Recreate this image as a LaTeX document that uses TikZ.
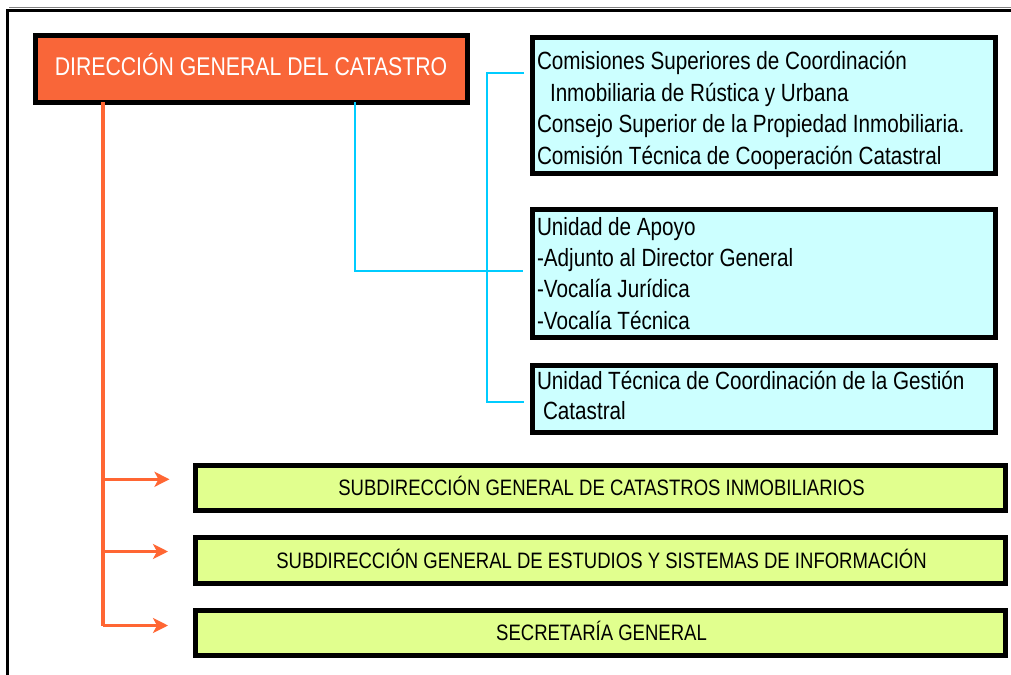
\documentclass[tikz,border=0pt]{standalone}
\usepackage{fontspec}
\setmainfont[FakeStretch=0.83]{Liberation Sans}
\usetikzlibrary{arrows.meta}
\definecolor{orangeline}{HTML}{FF6633}
\definecolor{titlefill}{HTML}{F96639}
\definecolor{cyanfill}{HTML}{CCFFFF}
\definecolor{cyanline}{HTML}{00CCFF}
\definecolor{greenfill}{HTML}{E1FF8E}
\newcommand{\boxfont}{\fontsize{25}{30}\selectfont}
\newcommand{\greenfont}{\fontsize{22.4}{26}\selectfont}
\newcommand{\titlefont}{\fontsize{25.7}{30}\selectfont}
\begin{document}
\begin{tikzpicture}[x=1bp,y=-1bp,
  framebox/.style={draw=black, line width=5bp, rectangle, inner sep=0pt, outer sep=0pt, anchor=center},
  mainbox/.style={framebox, fill=titlefill},
  cyanbox/.style={framebox, fill=cyanfill, minimum width=463bp},
  greenbox/.style={framebox, fill=greenfill, minimum width=810bp},
  txt/.style={anchor=base west, inner sep=0pt, outer sep=0pt, font=\boxfont, text=black},
  gtxt/.style={anchor=base, inner sep=0pt, outer sep=0pt, font=\greenfont, text=black},
  orangeconn/.style={draw=orangeline, line width=3.5bp},
  orangearrow/.style={orangeconn, -{Stealth[length=15bp,width=15bp,inset=4bp]}},
  cyanconn/.style={draw=cyanline, line width=2.5bp},
  frameline/.style={draw=black, line width=3bp}
]
\useasboundingbox (0,0) rectangle (1011,675);
\fill[white] (-10,-10) rectangle (1025,690);

% boxes
\node[mainbox, minimum width=432bp, minimum height=67bp] (main) at (251.5,69) {};
\node[anchor=base, inner sep=0pt, font=\titlefont, text=white] (title) at (251,76) {DIRECCIÓN GENERAL DEL CATASTRO};

\node[cyanbox, minimum height=136bp] (ba) at (764,105.5) {};
\node[cyanbox, minimum height=128bp] (bb) at (764,273.5) {};
\node[cyanbox, minimum height=67bp] (bc) at (764,399) {};

\node[greenbox, minimum height=45bp] (g1) at (600.5,488) {};
\node[greenbox, minimum height=46bp] (g2) at (600.5,560.5) {};
\node[greenbox, minimum height=45bp] (g3) at (600.5,633) {};

% box texts
\node[txt] (ta1) at (537,69.5) {Comisiones Superiores de Coordinación};
\node[txt] (ta2) at (550,101.2) {Inmobiliaria de Rústica y Urbana};
\node[txt] (ta3) at (537,132.9) {Consejo Superior de la Propiedad Inmobiliaria.};
\node[txt] (ta4) at (537,164.6) {Comisión Técnica de Cooperación Catastral};

\node[txt] (tb1) at (537,235.5) {Unidad de Apoyo};
\node[txt] (tb2) at (537,266.8) {-Adjunto al Director General};
\node[txt] (tb3) at (537,297.9) {-Vocalía Jurídica};
\node[txt] (tb4) at (537,329) {-Vocalía Técnica};

\node[txt] (tc1) at (537,389.2) {Unidad Técnica de Coordinación de la Gestión};
\node[txt] (tc2) at (543,419.5) {Catastral};

\node[gtxt] (tg1) at (601.5,495.5) {SUBDIRECCIÓN GENERAL DE CATASTROS INMOBILIARIOS};
\node[gtxt] (tg2) at (601.5,568) {SUBDIRECCIÓN GENERAL DE ESTUDIOS Y SISTEMAS DE INFORMACIÓN};
\node[gtxt] (tg3) at (601.5,640.5) {SECRETARÍA GENERAL};

% orange connectors
\coordinate (o1) at (103,479.3);
\coordinate (o2) at (103,551.5);
\coordinate (o3) at (103,625.5);
\coordinate (e1) at (169.5,479.3);
\coordinate (e2) at (168,551.5);
\coordinate (e3) at (168,625.5);
\draw[orangeconn] (main.south -| o3) -- (o3);
\draw[orangearrow] (o1) -- (e1);
\draw[orangearrow] (o2) -- (e2);
\draw[orangearrow] (o3) -- (e3);

% cyan connectors
\coordinate (c0) at (355,271);
\coordinate (cb) at (523,271);
\coordinate (ct) at (487,73);
\coordinate (cbot) at (487,402);
\coordinate (ca) at (524,73);
\coordinate (cc) at (524,402);
\draw[cyanconn] (main.south -| c0) -- (c0) -- (cb);
\draw[cyanconn] (ca) -- (ct) -- (cbot) -- (cc);

% right margin kept white
\fill[white] (1008.5,0) rectangle (1030,690);

% outer frame
\coordinate (fbl) at (7.5,690);
\coordinate (ftl) at (7.5,10.5);
\coordinate (ftr) at (1025,10.5);
\coordinate (gl) at (9,7.5);
\coordinate (gr) at (1025,7.5);
\draw[gray, line width=1.2bp] (gl) -- (gr);
\draw[frameline] (fbl) -- (ftl) -- (ftr);
\end{tikzpicture}
\end{document}
